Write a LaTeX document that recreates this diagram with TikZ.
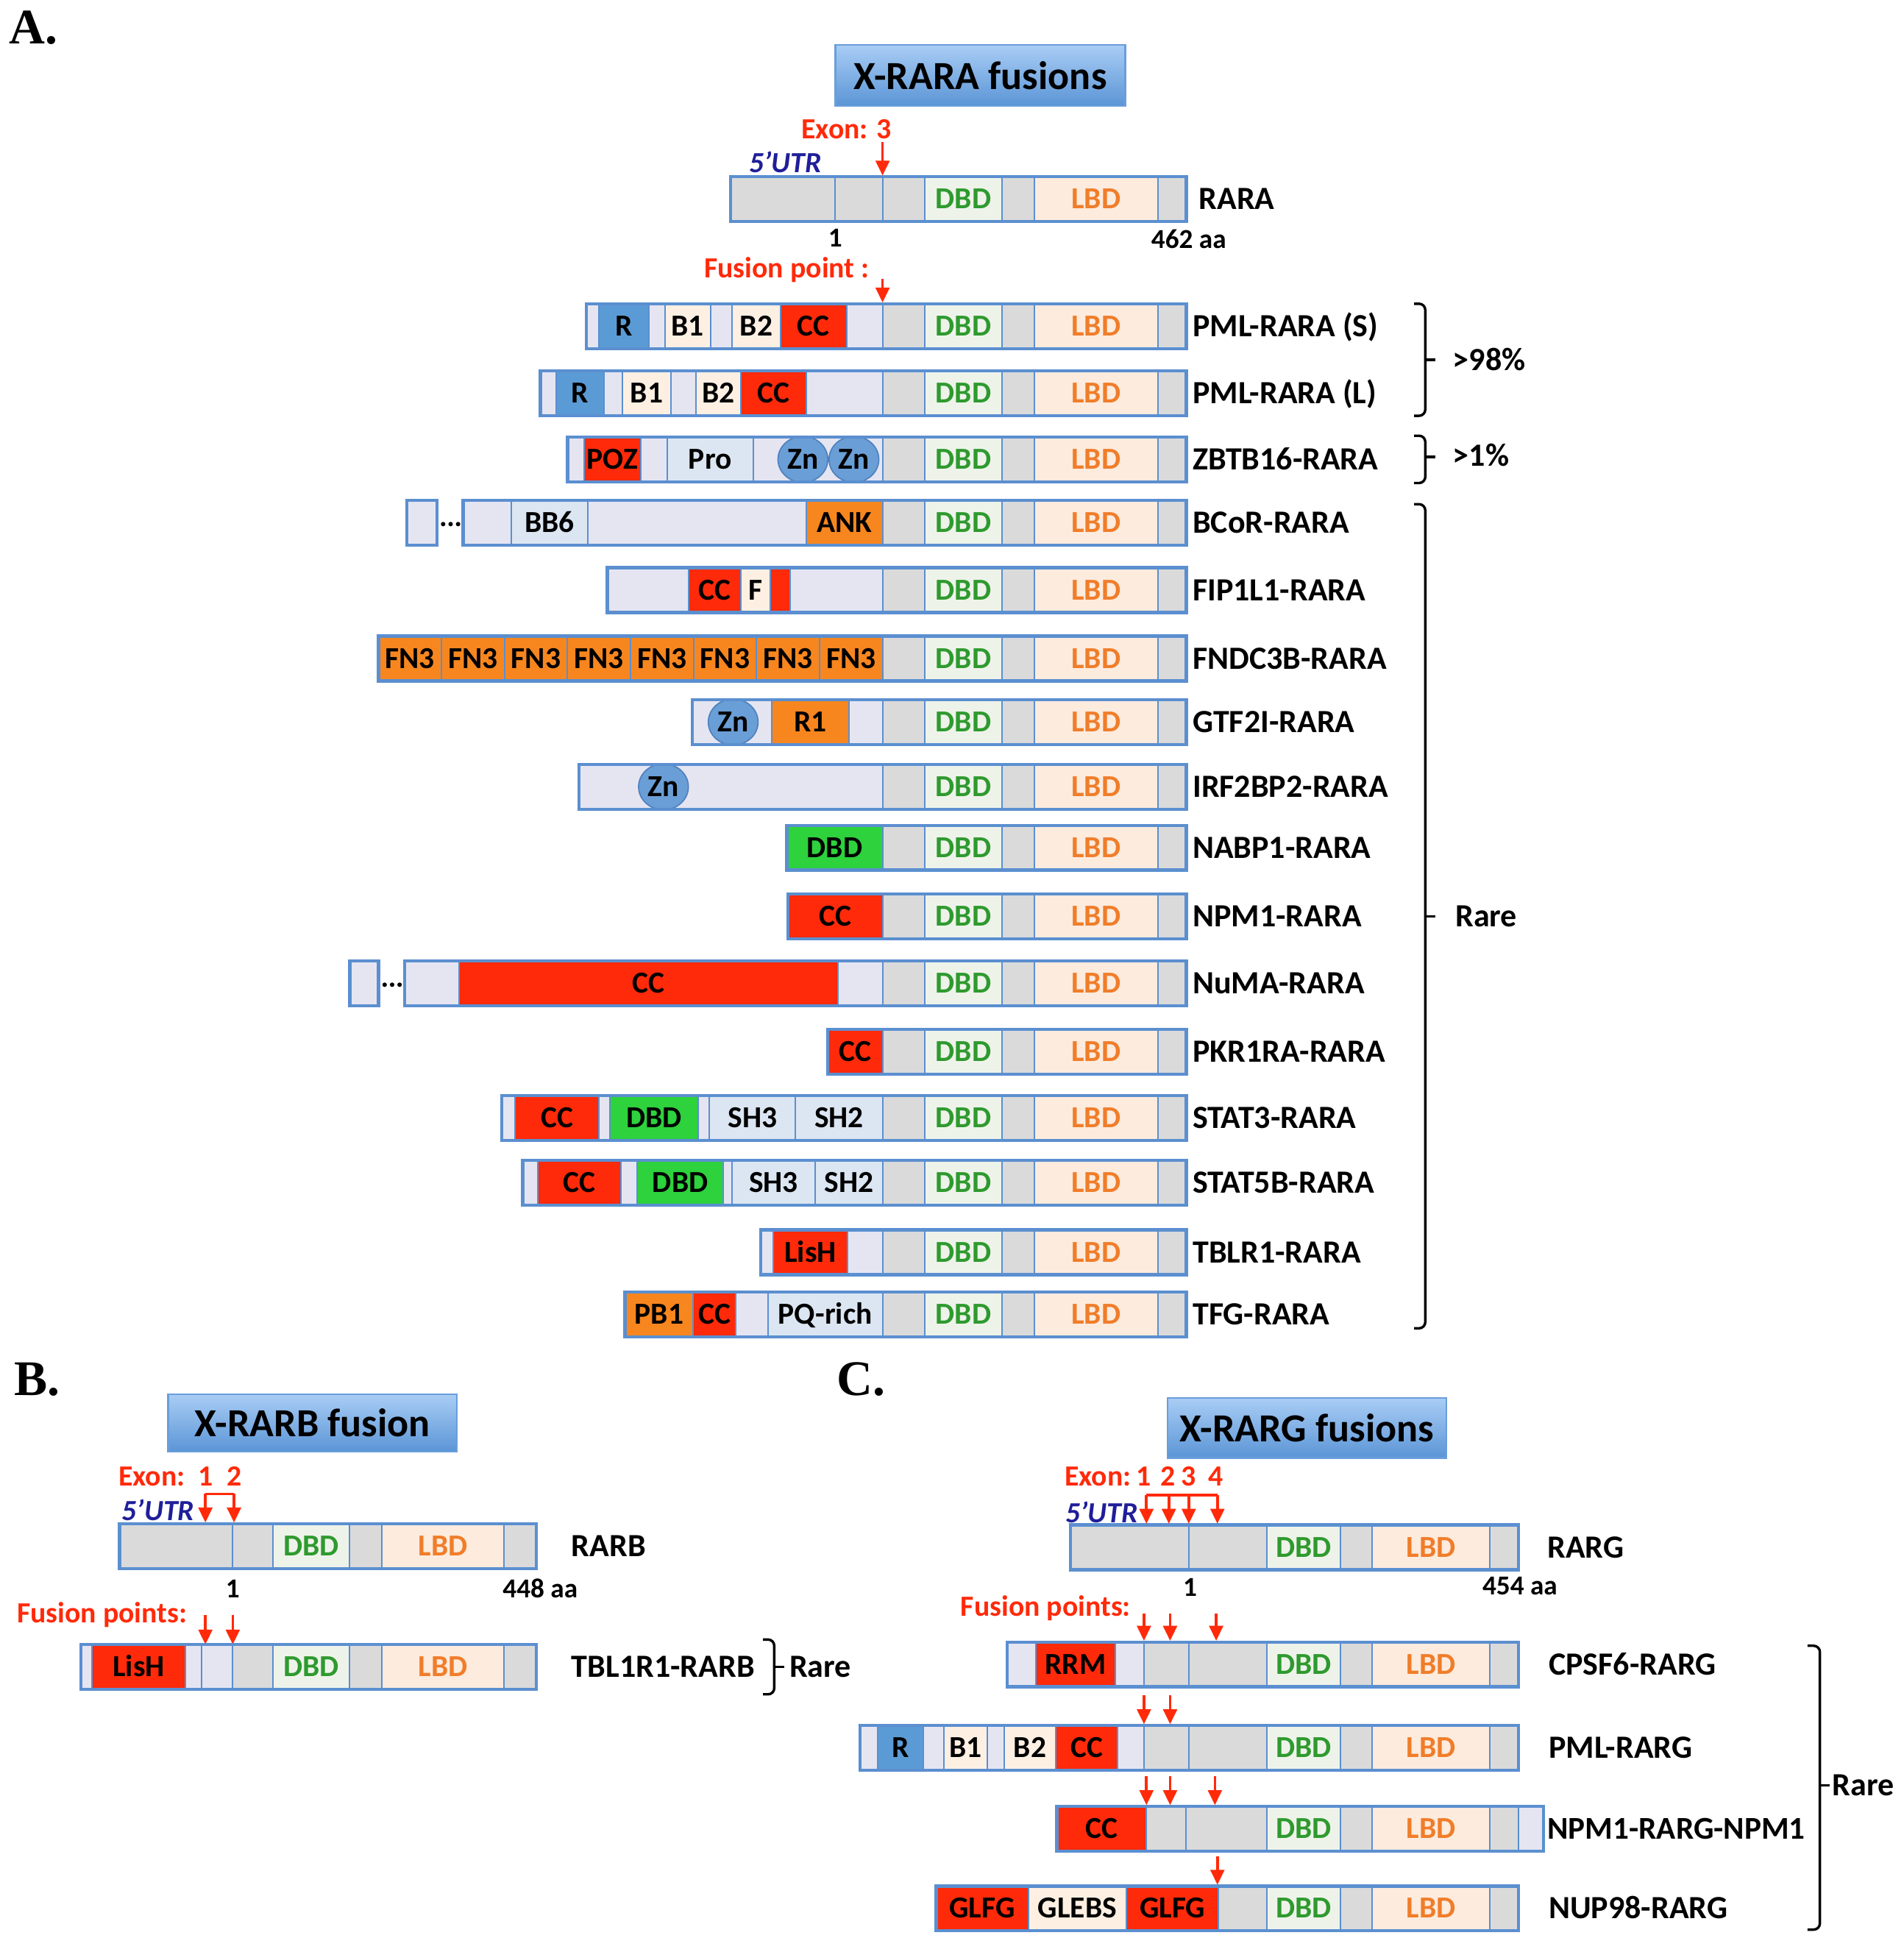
\documentclass[tikz,border=0pt]{standalone}
\usepackage{fontspec}
\setmainfont{Carlito}
\newfontfamily\panelfont{Liberation Serif}
\usetikzlibrary{arrows.meta,shapes.geometric}
\definecolor{bblue}{HTML}{5B8FD0}
\definecolor{gry}{HTML}{DADADA}
\definecolor{dbdf}{HTML}{EEF3EA}
\definecolor{lbdf}{HTML}{FDEBDD}
\definecolor{lav}{HTML}{E5E5F2}
\definecolor{lblue}{HTML}{DCE6F2}
\definecolor{cream}{HTML}{FDF0E3}
\definecolor{red1}{HTML}{FF2A0A}
\definecolor{org}{HTML}{F7861F}
\definecolor{grn}{HTML}{2DD23C}
\definecolor{rblue}{HTML}{5B9BD5}
\definecolor{dgreen}{HTML}{2E9A2E}
\definecolor{lorange}{HTML}{F07D2A}
\definecolor{arrred}{HTML}{FF2A0A}
\definecolor{utrblue}{HTML}{1F1F9A}
\definecolor{hdrTop}{HTML}{A9CDF5}
\definecolor{hdrBot}{HTML}{5B95D6}
\definecolor{hdrEdge}{HTML}{6A9EDB}
\definecolor{znFill}{HTML}{6A9ED6}
\definecolor{znEdge}{HTML}{4F81BD}
\newcommand\sg[6]{\node[seg,#5,minimum width={(#3-#2)*1pt}] (#1) at ({(#2+#3)/2},#4) {#6};}
\newcommand\tailA[2]{\sg{#1h}{709}{743}{#2}{fill=gry}{}\sg{#1d}{743}{805}{#2}{fill=dbdf,text=dgreen}{DBD}\sg{#1g}{805}{831}{#2}{fill=gry}{}\sg{#1l}{831}{930}{#2}{fill=lbdf,text=lorange}{LBD}\sg{#1e}{930}{953}{#2}{fill=gry}{}}
\newcommand\tailB[2]{\sg{#1d}{219}{281}{#2}{fill=dbdf,text=dgreen}{DBD}\sg{#1g}{281}{307}{#2}{fill=gry}{}\sg{#1l}{307}{405}{#2}{fill=lbdf,text=lorange}{LBD}\sg{#1e}{405}{431}{#2}{fill=gry}{}}
\newcommand\tailC[2]{\sg{#1d}{1018}{1077}{#2}{fill=dbdf,text=dgreen}{DBD}\sg{#1g}{1077}{1102}{#2}{fill=gry}{}\sg{#1l}{1102}{1197}{#2}{fill=lbdf,text=lorange}{LBD}\sg{#1e}{1197}{1220}{#2}{fill=gry}{}}
\newcommand\obox[3]{\draw[obox] (#1,{#3-18}) rectangle (#2,{#3+18});}
\newcommand\dnarrow[4]{\coordinate (#1s) at (#2,#3);\coordinate (#1e) at (#2,#4);\draw[arr] (#1s) -- (#1e);}
\begin{document}
\begin{tikzpicture}[x=1pt,y=-1pt,
 seg/.style={draw=bblue,line width=1.2pt,minimum height=36pt,inner sep=0pt,font=\fontsize{24.5}{24.5}\selectfont\bfseries,text height=15.5pt,text depth=0pt},
 obox/.style={draw=bblue,line width=2.6pt},
 lab/.style={anchor=west,inner sep=0pt,font=\fontsize{26}{26}\selectfont\bfseries,text height=16.7pt,text depth=0pt},
 num/.style={inner sep=0pt,font=\fontsize{22}{22}\selectfont\bfseries},
 redt/.style={inner sep=0pt,text=arrred,font=\fontsize{23.5}{23.5}\selectfont\bfseries},
 utr/.style={inner sep=0pt,text=utrblue,font=\fontsize{23.5}{23.5}\selectfont\bfseries\itshape},
 arr/.style={draw=arrred,line width=2.2pt,-{Triangle[length=12pt,width=11pt]}},
 rline/.style={draw=arrred,line width=2.2pt},
 brk/.style={draw=black,line width=2pt,rounded corners=5pt},
 hdr/.style={draw=hdrEdge,line width=1.5pt,top color=hdrTop,bottom color=hdrBot,inner sep=0pt,font=\fontsize{32}{32}\selectfont\bfseries},
 zn/.style={ellipse,draw=znEdge,fill=znFill,line width=1pt,minimum width=40pt,minimum height=37pt,inner sep=0pt,font=\fontsize{24.5}{24.5}\selectfont\bfseries},
 pnl/.style={inner sep=0pt,font=\fontsize{40}{40}\selectfont\panelfont\bfseries}]
\useasboundingbox[fill=white] (0,0) rectangle (1529,1568);
% ================= Panel A =================
\node[pnl] (pA) at (27,22) {A.};
\node[hdr,minimum width=233pt,minimum height=49pt] (hA) at (787.5,60.5) {X-RARA fusions};
% RARA
\sg{ra1}{587}{671}{160}{fill=gry}{}
\sg{ra2}{671}{709}{160}{fill=gry}{}
\tailA{ra}{160}
\obox{587}{953}{160}
\node[lab] (lRARA) at (963,160) {RARA};
\node[num] (n1A) at (671,191) {1};
\node[num] (n462) at (955,192) {462 aa};
\node[redt] (exA) at (680,104) {Exon: 3};
\node[utr] (utrA) at (631,130) {5’UTR};
\dnarrow{aEx}{709}{114}{141}
\node[redt] (fpA) at (632,217) {Fusion point :};
\dnarrow{aFp}{709}{224}{243}
% PML-RARA (S)
\sg{ps0}{471}{481}{262}{fill=lav}{}
\sg{ps1}{481}{521}{262}{fill=rblue}{R}
\sg{ps2}{521}{534}{262}{fill=lav}{}
\sg{ps3}{534}{571}{262}{fill=cream}{B1}
\sg{ps4}{571}{588}{262}{fill=lav}{}
\sg{ps5}{588}{627}{262}{fill=cream}{B2}
\sg{ps6}{627}{680}{262}{fill=red1}{CC}
\sg{ps7}{680}{709}{262}{fill=lav}{}
\tailA{ps}{262}
\obox{471}{953}{262}
\node[lab] (lPS) at (958,262) {PML-RARA (S)};
% PML-RARA (L)
\sg{pl0}{434}{447}{316}{fill=lav}{}
\sg{pl1}{447}{485}{316}{fill=rblue}{R}
\sg{pl2}{485}{500}{316}{fill=lav}{}
\sg{pl3}{500}{539}{316}{fill=cream}{B1}
\sg{pl4}{539}{559}{316}{fill=lav}{}
\sg{pl5}{559}{595}{316}{fill=cream}{B2}
\sg{pl6}{595}{648}{316}{fill=red1}{CC}
\sg{pl7}{648}{709}{316}{fill=lav}{}
\tailA{pl}{316}
\obox{434}{953}{316}
\node[lab] (lPL) at (958,316) {PML-RARA (L)};
% ZBTB16
\sg{z0}{456}{469}{369}{fill=lav}{}
\sg{z1}{469}{515}{369}{fill=red1}{POZ}
\sg{z2}{515}{536}{369}{fill=lav}{}
\sg{z3}{536}{605}{369}{fill=lblue}{Pro}
\sg{z4}{605}{709}{369}{fill=lav}{}
\node[zn] (zz1) at (645,369) {Zn};
\node[zn] (zz2) at (686,369) {Zn};
\tailA{z}{369}
\obox{456}{953}{369}
\node[lab] (lZ) at (958,369) {ZBTB16-RARA};
% BCoR
\sg{b0}{327}{351}{420}{fill=lav}{}
\obox{327}{351}{420}
\foreach \d in {356,362,368} \fill (\d,421) circle (1.8pt);
\sg{b1}{372}{411}{420}{fill=lav}{}
\sg{b2}{411}{472}{420}{fill=lblue}{BB6}
\sg{b3}{472}{648}{420}{fill=lav}{}
\sg{b4}{648}{709}{420}{fill=org}{ANK}
\tailA{b}{420}
\obox{372}{953}{420}
\node[lab] (lB) at (958,420) {BCoR-RARA};
% FIP1L1
\sg{f0}{488}{553}{474}{fill=lav}{}
\sg{f1}{553}{595}{474}{fill=red1}{CC}
\sg{f2}{595}{619}{474}{fill=cream}{F}
\sg{f3}{619}{635}{474}{fill=red1}{}
\sg{f4}{635}{709}{474}{fill=lav}{}
\tailA{f}{474}
\obox{488}{953}{474}
\node[lab] (lF) at (958,474) {FIP1L1-RARA};
% FNDC3B
\foreach \i in {0,...,7}{\pgfmathsetmacro\xa{304+\i*50.625}\pgfmathsetmacro\xb{\xa+50.625}\sg{fn\i}{\xa}{\xb}{529}{fill=org}{FN3}}
\tailA{fn}{529}
\obox{304}{953}{529}
\node[lab] (lFN) at (958,529) {FNDC3B-RARA};
% GTF2I
\sg{g0}{556}{620}{580}{fill=lav}{}
\sg{g1}{620}{682}{580}{fill=org}{R1}
\sg{g2}{682}{709}{580}{fill=lav}{}
\node[zn] (gz) at (589,580) {Zn};
\tailA{g}{580}
\obox{556}{953}{580}
\node[lab] (lG) at (958,580) {GTF2I-RARA};
% IRF2BP2
\sg{i0}{465}{709}{632}{fill=lav}{}
\node[zn] (iz) at (533,632) {Zn};
\tailA{i}{632}
\obox{465}{953}{632}
\node[lab] (lI) at (958,632) {IRF2BP2-RARA};
% NABP1
\sg{n0}{632}{709}{681}{fill=grn}{DBD}
\tailA{n}{681}
\obox{632}{953}{681}
\node[lab] (lN) at (958,681) {NABP1-RARA};
% NPM1
\sg{m0}{633}{709}{736}{fill=red1}{CC}
\tailA{m}{736}
\obox{633}{953}{736}
\node[lab] (lM) at (958,736) {NPM1-RARA};
% NuMA
\sg{u0}{281}{304}{790}{fill=lav}{}
\obox{281}{304}{790}
\foreach \d in {309,315,321} \fill (\d,791) circle (1.8pt);
\sg{u1}{325}{369}{790}{fill=lav}{}
\sg{u2}{369}{673}{790}{fill=red1}{CC}
\sg{u3}{673}{709}{790}{fill=lav}{}
\tailA{u}{790}
\obox{325}{953}{790}
\node[lab] (lU) at (958,790) {NuMA-RARA};
% PKR1RA
\sg{k0}{665}{709}{845}{fill=red1}{CC}
\tailA{k}{845}
\obox{665}{953}{845}
\node[lab] (lK) at (958,845) {PKR1RA-RARA};
% STAT3
\sg{s0}{403}{414}{898}{fill=lav}{}
\sg{s1}{414}{481}{898}{fill=red1}{CC}
\sg{s2}{481}{490}{898}{fill=lav}{}
\sg{s3}{490}{561}{898}{fill=grn}{DBD}
\sg{s4}{561}{570}{898}{fill=lav}{}
\sg{s5}{570}{639}{898}{fill=lblue}{SH3}
\sg{s6}{639}{709}{898}{fill=lblue}{SH2}
\tailA{s}{898}
\obox{403}{953}{898}
\node[lab] (lS3) at (958,898) {STAT3-RARA};
% STAT5B
\sg{t0}{420}{432}{950}{fill=lav}{}
\sg{t1}{432}{499}{950}{fill=red1}{CC}
\sg{t2}{499}{512}{950}{fill=lav}{}
\sg{t3}{512}{581}{950}{fill=grn}{DBD}
\sg{t4}{581}{588}{950}{fill=lav}{}
\sg{t5}{588}{655}{950}{fill=lblue}{SH3}
\sg{t6}{655}{709}{950}{fill=lblue}{SH2}
\tailA{t}{950}
\obox{420}{953}{950}
\node[lab] (lS5) at (958,950) {STAT5B-RARA};
% TBLR1
\sg{l0}{611}{621}{1006}{fill=lav}{}
\sg{l1}{621}{681}{1006}{fill=red1}{LisH}
\sg{l2}{681}{709}{1006}{fill=lav}{}
\tailA{l}{1006}
\obox{611}{953}{1006}
\node[lab] (lL) at (958,1006) {TBLR1-RARA};
% TFG
\sg{q0}{502}{557}{1056}{fill=org}{PB1}
\sg{q1}{557}{591}{1056}{fill=red1}{CC}
\sg{q2}{591}{617}{1056}{fill=lav}{}
\sg{q3}{617}{709}{1056}{fill=lblue}{PQ-rich}
\tailA{q}{1056}
\obox{502}{953}{1056}
\node[lab] (lQ) at (958,1056) {TFG-RARA};
% brackets A
\draw[brk] (1136,244) -- (1145,244) -- (1145,334) -- (1136,334);
\draw[brk] (1145,289) -- (1153,289);
\node[lab] (g98) at (1167,289) {>98\%};
\draw[brk] (1136,350) -- (1145,350) -- (1145,388) -- (1136,388);
\draw[brk] (1145,367) -- (1153,367);
\node[lab] (g1) at (1167,366) {>1\%};
\draw[brk] (1136,405) -- (1145,405) -- (1145,1067) -- (1136,1067);
\draw[brk] (1145,736) -- (1153,736);
\node[lab] (rA) at (1169,736) {Rare};
% ================= Panel B =================
\node[pnl] (pB) at (30,1108) {B.};
\node[hdr,minimum width=232pt,minimum height=46pt] (hB) at (251,1143) {X-RARB fusion};
\node[redt] (exB) at (122,1186) {Exon:};
\node[redt] (exB1) at (165,1186) {1};
\node[redt] (exB2) at (188,1186) {2};
\node[utr] (utrB) at (127,1213) {5’UTR};
\sg{rb0}{96}{187}{1242}{fill=gry}{}
\sg{rb1}{187}{219}{1242}{fill=gry}{}
\tailB{rb}{1242}
\obox{96}{431}{1242}
\dnarrow{bE1}{165}{1200}{1223}
\dnarrow{bE2}{188}{1200}{1223}
\draw[rline] (bE1s) -- (bE2s);
\node[lab] (lRB) at (459,1242) {RARB};
\node[num] (n1B) at (187,1276) {1};
\node[num] (n448) at (434,1276) {448 aa};
\node[redt] (fpB) at (82,1297) {Fusion points:};
\dnarrow{bF1}{165}{1297}{1321}
\dnarrow{bF2}{187}{1297}{1321}
\sg{tb0}{65}{74}{1339}{fill=lav}{}
\sg{tb1}{74}{149}{1339}{fill=red1}{LisH}
\sg{tb2}{149}{162}{1339}{fill=lav}{}
\sg{tb3}{162}{187}{1339}{fill=lav}{}
\sg{tb4}{187}{219}{1339}{fill=gry}{}
\tailB{tb}{1339}
\obox{65}{431}{1339}
\node[lab] (lTB) at (459,1339) {TBL1R1-RARB};
\draw[brk] (613,1317) -- (622,1317) -- (622,1361) -- (613,1361);
\draw[brk] (622,1339) -- (630,1339);
\node[lab] (rB) at (634,1339) {Rare};
% ================= Panel C =================
\node[pnl] (pC) at (692,1108) {C.};
\node[hdr,minimum width=224pt,minimum height=48pt] (hC) at (1050,1147) {X-RARG fusions};
\node[redt] (exC) at (882,1186) {Exon:};
\node[redt] (exC1) at (919,1186) {1};
\node[redt] (exC2) at (938,1186) {2};
\node[redt] (exC3) at (955,1186) {3};
\node[redt] (exC4) at (977,1186) {4};
\node[utr] (utrC) at (885,1215) {5’UTR};
\sg{rg0}{860}{955}{1243}{fill=gry}{}
\sg{rg1}{955}{1018}{1243}{fill=gry}{}
\tailC{rg}{1243}
\obox{860}{1220}{1243}
\dnarrow{cE1}{921}{1201}{1224}
\dnarrow{cE2}{939}{1201}{1224}
\dnarrow{cE3}{955}{1201}{1224}
\dnarrow{cE4}{978}{1201}{1224}
\draw[rline] (cE1s) -- (cE4s);
\node[lab] (lRG) at (1243,1243) {RARG};
\node[num] (n1C) at (956,1275) {1};
\node[num] (n454) at (1221,1274) {454 aa};
\node[redt] (fpC) at (840,1292) {Fusion points:};
% CPSF6
\dnarrow{c1a}{919}{1296}{1318}
\dnarrow{c1b}{940}{1296}{1318}
\dnarrow{c1c}{977}{1296}{1318}
\sg{c0}{809}{832}{1337}{fill=lav}{}
\sg{c1}{832}{896}{1337}{fill=red1}{RRM}
\sg{c2}{896}{919}{1337}{fill=lav}{}
\sg{c3}{919}{955}{1337}{fill=gry}{}
\sg{c4}{955}{1018}{1337}{fill=gry}{}
\tailC{c}{1337}
\obox{809}{1220}{1337}
\node[lab] (lC1) at (1244,1337) {CPSF6-RARG};
% PML-RARG
\dnarrow{c2a}{919}{1362}{1385}
\dnarrow{c2b}{940}{1362}{1385}
\sg{p0}{691}{705}{1404}{fill=lav}{}
\sg{p1}{705}{742}{1404}{fill=rblue}{R}
\sg{p2}{742}{758}{1404}{fill=lav}{}
\sg{p3}{758}{793}{1404}{fill=cream}{B1}
\sg{p4}{793}{807}{1404}{fill=lav}{}
\sg{p5}{807}{848}{1404}{fill=cream}{B2}
\sg{p6}{848}{898}{1404}{fill=red1}{CC}
\sg{p7}{898}{919}{1404}{fill=lav}{}
\sg{p8}{919}{955}{1404}{fill=gry}{}
\sg{p9}{955}{1018}{1404}{fill=gry}{}
\tailC{p}{1404}
\obox{691}{1220}{1404}
\node[lab] (lC2) at (1244,1404) {PML-RARG};
% NPM1-RARG-NPM1
\dnarrow{c3a}{921}{1427}{1450}
\dnarrow{c3b}{940}{1427}{1450}
\dnarrow{c3c}{976}{1427}{1450}
\sg{w0}{849}{921}{1469}{fill=red1}{CC}
\sg{w1}{921}{953}{1469}{fill=gry}{}
\sg{w2}{953}{1018}{1469}{fill=gry}{}
\tailC{w}{1469}
\sg{w9}{1220}{1240}{1469}{fill=lav}{}
\obox{849}{1240}{1469}
\node[lab,font=\fontsize{25.5}{25.5}\selectfont\bfseries] (lC3) at (1243,1469) {NPM1-RARG-NPM1};
% NUP98-RARG
\dnarrow{c4a}{978}{1491}{1514}
\sg{v0}{752}{826}{1533}{fill=red1}{GLFG}
\sg{v1}{826}{905}{1533}{fill=cream}{GLEBS}
\sg{v2}{905}{979}{1533}{fill=red1}{GLFG}
\sg{v3}{979}{1018}{1533}{fill=gry}{}
\tailC{v}{1533}
\obox{752}{1220}{1533}
\node[lab] (lC4) at (1244,1533) {NUP98-RARG};
\draw[brk] (1452,1322) -- (1462,1322) -- (1462,1550) -- (1452,1550);
\draw[brk] (1462,1434) -- (1470,1434);
\node[lab] (rC) at (1472,1434) {Rare};
\end{tikzpicture}
\end{document}
